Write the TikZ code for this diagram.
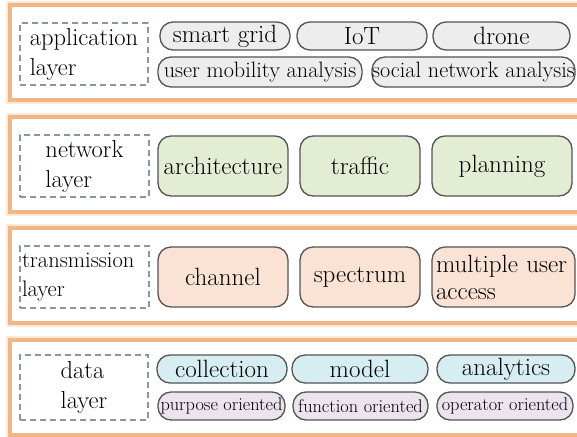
\documentclass[tikz,border=0pt]{standalone}
\usetikzlibrary{calc}
\definecolor{LayerClr}{rgb}{0.95,0.71,0.52}
\definecolor{HaloClr}{rgb}{0.99,0.91,0.84}
\definecolor{DashClr}{rgb}{0.53,0.60,0.62}
\definecolor{EdgeClr}{rgb}{0.33,0.33,0.33}
\definecolor{AppClr}{rgb}{0.93,0.93,0.93}
\definecolor{NetClr}{rgb}{0.89,0.93,0.83}
\definecolor{TransClr}{rgb}{0.98,0.89,0.83}
\definecolor{DataClr}{rgb}{0.84,0.93,0.95}
\definecolor{OrientClr}{rgb}{0.92,0.89,0.93}

\tikzset{
  layerhalo/.style={draw=HaloClr,line width=8pt},
  layerline/.style={draw=LayerClr,line width=3.5pt,fill=white},
  labelbox/.style={draw=DashClr,line width=1.2pt,dash pattern=on 6pt off 4pt,
    align=left,inner sep=0pt,minimum width=128pt,minimum height=62pt,
    font=\fontsize{24.5}{30}\selectfont},
  tagbox/.style={draw=EdgeClr,line width=1.3pt,inner sep=0pt,
    font=\fontsize{25}{29}\selectfont},
  pill/.style={tagbox,rounded corners=13pt,minimum height=28pt},
  block/.style={tagbox,rounded corners=13pt,minimum height=60pt},
}

\begin{document}
\begin{tikzpicture}[x=1pt,y=-1pt]
\useasboundingbox (0,0) rectangle (577,436);

\foreach \t in {5,117,228,340}{
  \draw[layerhalo] (10,\t) rectangle (590,\t+95);
  \draw[layerline] (10,\t) rectangle (590,\t+95);
}

% application layer
\node[labelbox] (appL) at (84,54) {application\\layer};
\node[pill,fill=AppClr,minimum width=130pt] (grid) at (225,36) {smart grid};
\node[pill,fill=AppClr,minimum width=130pt] (iot) at (362,36) {IoT};
\node[pill,fill=AppClr,minimum width=137pt] (drone) at (501.5,36) {drone};
\node[pill,fill=AppClr,minimum width=204pt,minimum height=30pt,
  font=\fontsize{22.2}{26}\selectfont] (mobility) at (260,72) {user mobility analysis};
\node[pill,fill=AppClr,minimum width=203pt,minimum height=30pt,
  font=\fontsize{22.2}{26}\selectfont] (social) at (473.5,72) {social network analysis};

% network layer
\node[labelbox,minimum width=129pt] (netL) at (84.5,166) {network\\layer};
\node[block,fill=NetClr,minimum width=130pt] (arch) at (223,166) {architecture};
\node[block,fill=NetClr,minimum width=120pt] (traffic) at (360,166) {traffic};
\node[block,fill=NetClr,minimum width=140pt] (plan) at (502,166) {planning};

% transmission layer
\node[labelbox,minimum width=129pt,text width=125pt,inner xsep=2pt,
  font=\fontsize{22.5}{29}\selectfont] (transL) at (84.5,277) {transmission\\layer};
\node[block,fill=TransClr,minimum width=130pt] (channel) at (223,277) {channel};
\node[block,fill=TransClr,minimum width=120pt] (spectrum) at (360,277) {spectrum};
\node[block,fill=TransClr,minimum width=143pt,text width=135pt,align=left,
  font=\fontsize{25}{27}\selectfont] (access) at (503.5,277) {multiple user\\access};

% data layer
\node[labelbox,minimum height=65pt] (dataL) at (84,387.5) {data\\layer};
\node[pill,fill=DataClr,minimum width=130pt] (collect) at (222,369) {collection};
\node[pill,fill=DataClr,minimum width=136pt] (model) at (360,369) {model};
\node[pill,fill=DataClr,minimum width=138pt] (analytics) at (506,369) {analytics};
\node[pill,fill=OrientClr,minimum width=127pt,font=\fontsize{18.3}{22}\selectfont]
  (purpose) at (221.5,406) {purpose oriented};
\node[pill,fill=OrientClr,minimum width=135pt,font=\fontsize{18.3}{22}\selectfont]
  (function) at (360.5,406) {function oriented};
\node[pill,fill=OrientClr,minimum width=136pt,font=\fontsize{18.3}{22}\selectfont]
  (operator) at (505,406) {operator oriented};

\end{tikzpicture}
\end{document}
